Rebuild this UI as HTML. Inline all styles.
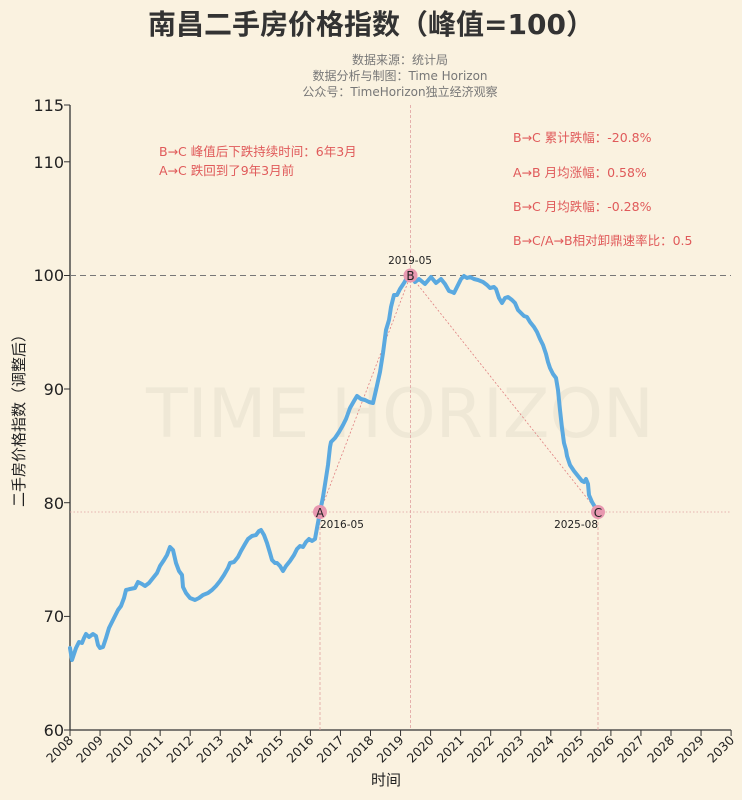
<!DOCTYPE html>
<html><head><meta charset="utf-8"><style>
body{margin:0;background:#faf2e0;}
svg{display:block;font-family:"DejaVu Sans","Noto Sans CJK SC",sans-serif;}
</style></head><body>
<svg width="742" height="800" viewBox="0 0 742 800" xmlns="http://www.w3.org/2000/svg">
<rect width="742" height="800" fill="#faf2e0"/>
<text x="371" y="34" text-anchor="middle" font-size="28" font-weight="bold" fill="#333">南昌二手房价格指数（峰值=100）</text>
<text x="400" y="64" text-anchor="middle" font-size="12" fill="#777">数据来源：统计局</text>
<text x="400" y="80" text-anchor="middle" font-size="12" fill="#777">数据分析与制图：Time Horizon</text>
<text x="400" y="96" text-anchor="middle" font-size="12" fill="#777">公众号：TimeHorizon独立经济观察</text>
<text x="400" y="437" text-anchor="middle" font-size="68" fill="#efe8d6">TIME HORIZON</text>
<line x1="70" y1="105" x2="70" y2="730" stroke="#333" stroke-width="1.3"/>
<line x1="70" y1="730" x2="731" y2="730" stroke="#333" stroke-width="1.3"/>
<g font-size="16" fill="#222" text-anchor="end">
<text x="64" y="736">60</text><text x="64" y="622">70</text><text x="64" y="509">80</text><text x="64" y="395">90</text><text x="64" y="281">100</text><text x="64" y="168">110</text><text x="64" y="111">115</text>
</g>
<g stroke="#333" stroke-width="1">
<line x1="64" y1="730" x2="70" y2="730"/><line x1="64" y1="616.4" x2="70" y2="616.4"/><line x1="64" y1="502.7" x2="70" y2="502.7"/><line x1="64" y1="389" x2="70" y2="389"/><line x1="64" y1="275.5" x2="70" y2="275.5"/><line x1="64" y1="161.8" x2="70" y2="161.8"/><line x1="64" y1="105" x2="70" y2="105"/>
</g>
<g stroke="#333" stroke-width="1">
<line x1="70" y1="730" x2="70" y2="736"/><line x1="100.05" y1="730" x2="100.05" y2="736"/><line x1="130.1" y1="730" x2="130.1" y2="736"/><line x1="160.15" y1="730" x2="160.15" y2="736"/><line x1="190.2" y1="730" x2="190.2" y2="736"/><line x1="220.25" y1="730" x2="220.25" y2="736"/><line x1="250.3" y1="730" x2="250.3" y2="736"/><line x1="280.35" y1="730" x2="280.35" y2="736"/><line x1="310.4" y1="730" x2="310.4" y2="736"/><line x1="340.45" y1="730" x2="340.45" y2="736"/><line x1="370.5" y1="730" x2="370.5" y2="736"/><line x1="400.55" y1="730" x2="400.55" y2="736"/><line x1="430.6" y1="730" x2="430.6" y2="736"/><line x1="460.65" y1="730" x2="460.65" y2="736"/><line x1="490.7" y1="730" x2="490.7" y2="736"/><line x1="520.75" y1="730" x2="520.75" y2="736"/><line x1="550.8" y1="730" x2="550.8" y2="736"/><line x1="580.85" y1="730" x2="580.85" y2="736"/><line x1="610.9" y1="730" x2="610.9" y2="736"/><line x1="640.95" y1="730" x2="640.95" y2="736"/><line x1="671" y1="730" x2="671" y2="736"/><line x1="701.05" y1="730" x2="701.05" y2="736"/><line x1="731.1" y1="730" x2="731.1" y2="736"/>
</g>
<g font-size="12.5" fill="#222" text-anchor="end">
<text transform="translate(74,741) rotate(-45)">2008</text>
<text transform="translate(104.05,741) rotate(-45)">2009</text>
<text transform="translate(134.1,741) rotate(-45)">2010</text>
<text transform="translate(164.15,741) rotate(-45)">2011</text>
<text transform="translate(194.2,741) rotate(-45)">2012</text>
<text transform="translate(224.25,741) rotate(-45)">2013</text>
<text transform="translate(254.3,741) rotate(-45)">2014</text>
<text transform="translate(284.35,741) rotate(-45)">2015</text>
<text transform="translate(314.4,741) rotate(-45)">2016</text>
<text transform="translate(344.45,741) rotate(-45)">2017</text>
<text transform="translate(374.5,741) rotate(-45)">2018</text>
<text transform="translate(404.55,741) rotate(-45)">2019</text>
<text transform="translate(434.6,741) rotate(-45)">2020</text>
<text transform="translate(464.65,741) rotate(-45)">2021</text>
<text transform="translate(494.7,741) rotate(-45)">2022</text>
<text transform="translate(524.75,741) rotate(-45)">2023</text>
<text transform="translate(554.8,741) rotate(-45)">2024</text>
<text transform="translate(584.85,741) rotate(-45)">2025</text>
<text transform="translate(614.9,741) rotate(-45)">2026</text>
<text transform="translate(644.95,741) rotate(-45)">2027</text>
<text transform="translate(675,741) rotate(-45)">2028</text>
<text transform="translate(705.05,741) rotate(-45)">2029</text>
<text transform="translate(735.1,741) rotate(-45)">2030</text>
</g>
<text x="386" y="785" text-anchor="middle" font-size="15" fill="#222">时间</text>
<text transform="translate(24,417) rotate(-90)" text-anchor="middle" font-size="15" fill="#222">二手房价格指数（调整后）</text>
<line x1="70" y1="275.5" x2="731" y2="275.5" stroke="#777" stroke-width="1" stroke-dasharray="6,4"/>
<line x1="70" y1="512" x2="731" y2="512" stroke="#e0a0a0" stroke-width="0.8" stroke-dasharray="1.5,2"/>
<line x1="320" y1="512" x2="320" y2="730" stroke="#e0a0a0" stroke-width="0.8" stroke-dasharray="3,2"/>
<line x1="410.5" y1="105" x2="410.5" y2="730" stroke="#e0a0a0" stroke-width="0.8" stroke-dasharray="3,2"/>
<line x1="598" y1="512" x2="598" y2="730" stroke="#e0a0a0" stroke-width="0.8" stroke-dasharray="3,2"/>
<line x1="320" y1="512" x2="410.5" y2="275.5" stroke="#e08080" stroke-width="0.8" stroke-dasharray="2,2"/>
<line x1="410.5" y1="275.5" x2="598" y2="512" stroke="#e08080" stroke-width="0.8" stroke-dasharray="2,2"/>
<polyline fill="none" stroke="#5aa9e0" stroke-width="4" stroke-linejoin="round" stroke-linecap="round" points="70,648 72,660 76,648 79,642 82,643 84,638 86,634 89,637 93,634 96,636 98,645 100,648 103,647 106,638 109,628 113,620 118,610 121,606 124,598 126,590 130,589 135,588 138,582 142,584 145,586 149,583 153,578 157,573 160,566 164,560 167,555 170,547 173,550 176,563 179,571 182,575 183,587 186,593 190,598 195,600 199,598 203,595 208,593 212,590 216,586 220,581 224,575 228,568 230,563 234,562 238,557 241,551 245,544 248,539 252,536 256,535 259,531 261,530 264,535 267,543 270,553 272,560 275,563 277,563 280,566 283,571 286,566 290,561 294,555 297,549 300,546 303,547 306,542 309,539 312,541 315,539 317,528 320,512 323,497 326,478 328,465 330,447 331,442 335,438 339,432 343,425 346,419 350,408 354,401 357,396 361,399 365,400 369,402 373,403 376,390 380,372 383,353 386,330 389,320 391,307 394,295 397,295 400,289 404,283 408,276 411,275 415,282 419,279 425,284 431,277 436,283 441,279 445,284 449,291 452,292 454,293 458,285 461,279 464,276 467,278 470,277 474,279 478,280 483,282 487,285 490,288 494,287 496,289 499,298 502,303 505,298 508,297 512,300 515,303 518,310 521,313 524,316 527,317 530,322 534,327 537,332 540,339 543,345 546,354 548,362 550,368 553,374 556,378 558,390 560,410 562,428 564,443 566,450 567,456 570,465 574,471 578,476 582,481 584,482 586,479 588,484 589,495 592,502 595,507 598,512"/>
<circle cx="320" cy="512" r="7" fill="#e898b0"/><text x="320" y="517" text-anchor="middle" font-size="12" fill="#222">A</text>
<circle cx="410.5" cy="275.5" r="7" fill="#e898b0"/><text x="410.5" y="280" text-anchor="middle" font-size="12" fill="#222">B</text>
<circle cx="598" cy="512" r="7" fill="#e898b0"/><text x="598" y="517" text-anchor="middle" font-size="12" fill="#222">C</text>
<text x="320" y="528" font-size="10.5" fill="#222">2016-05</text>
<text x="410" y="264" text-anchor="middle" font-size="10.5" fill="#222">2019-05</text>
<text x="598" y="528" text-anchor="end" font-size="10.5" fill="#222">2025-08</text>
<g font-size="12.5" fill="#e05a5a">
<text x="159" y="156">B→C 峰值后下跌持续时间：6年3月</text>
<text x="159" y="175">A→C 跌回到了9年3月前</text>
<text x="513" y="142">B→C 累计跌幅：-20.8%</text>
<text x="513" y="177">A→B 月均涨幅：0.58%</text>
<text x="513" y="211">B→C 月均跌幅：-0.28%</text>
<text x="513" y="245">B→C/A→B相对卸鼎速率比：0.5</text>
</g>
</svg>
</body></html>
